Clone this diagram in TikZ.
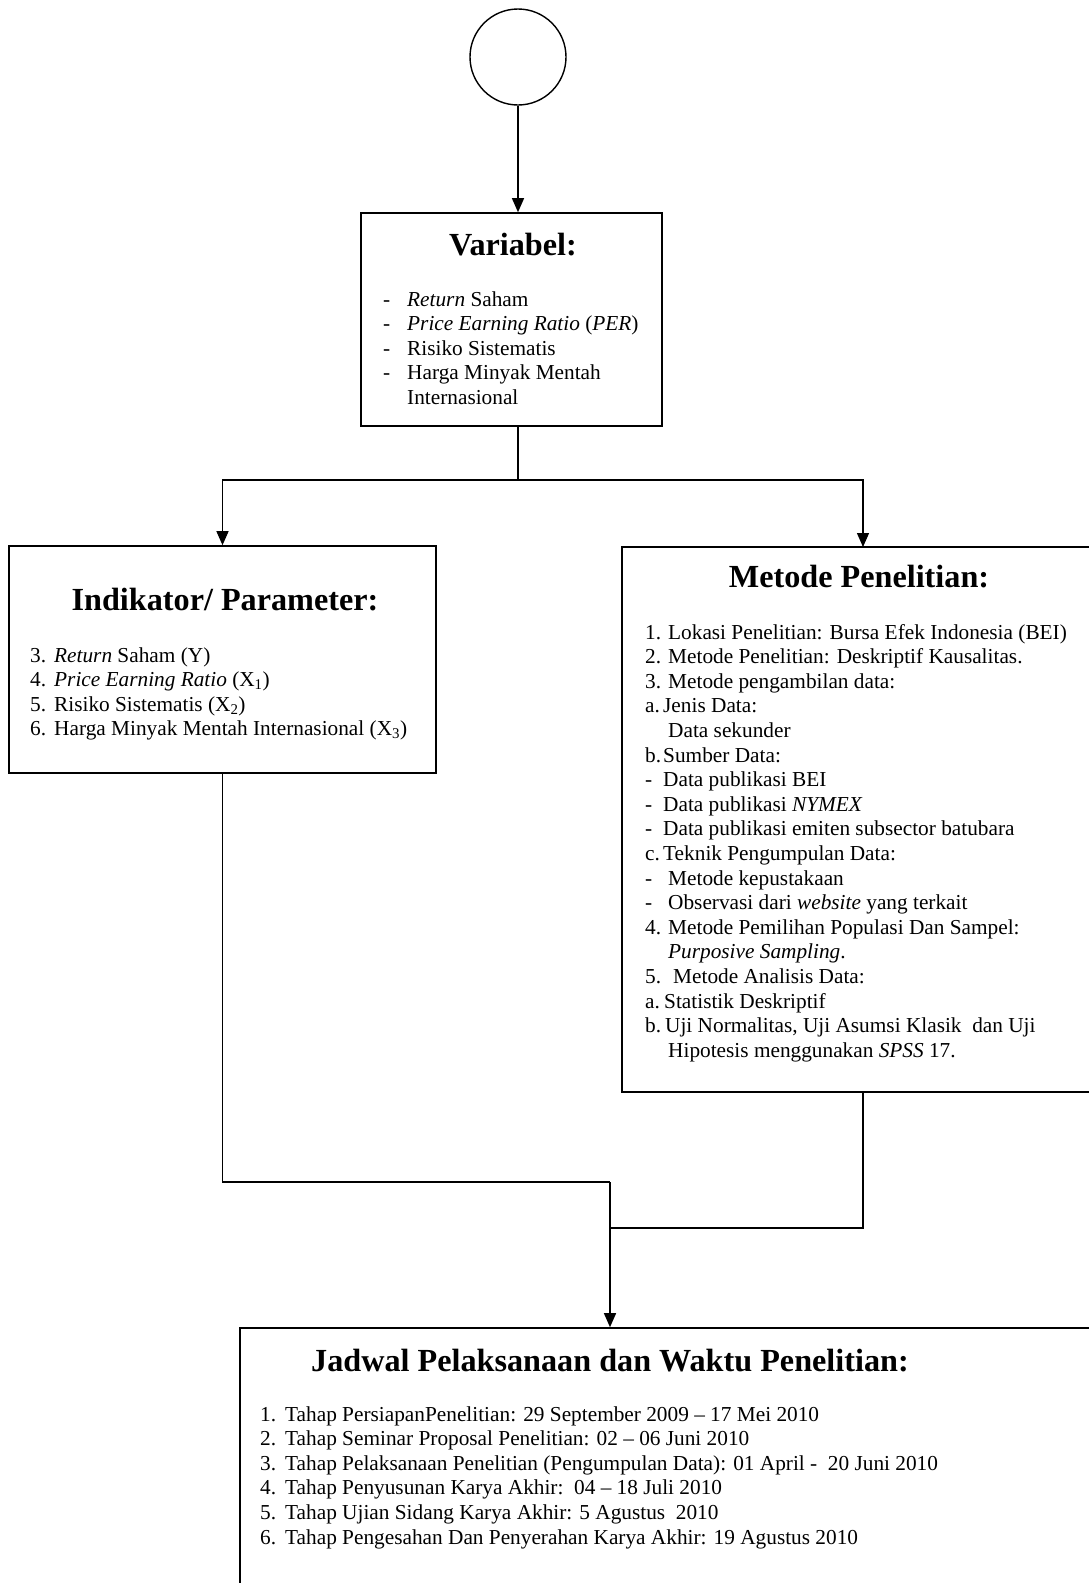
\documentclass[tikz,border=0pt]{standalone}
\usepackage{fontspec}
\setmainfont{Liberation Serif}
\usetikzlibrary{arrows.meta}
\newcommand\lbx[3]{\makebox[#1pt][l]{#2}#3}
\begin{document}
\begin{tikzpicture}[x=1pt,y=-1pt,
  box/.style={draw,line width=1.6pt,rectangle,inner sep=0pt},
  conn/.style={line width=1.3pt},
  arr/.style={conn,-{Triangle[length=14pt,width=12pt]}},
  ttl/.style={anchor=base,inner sep=0pt,font=\fontsize{32.2}{36}\selectfont\bfseries},
  lst/.style={anchor=base west,inner sep=0pt,font=\fontsize{21.3}{24.6}\selectfont}]
\useasboundingbox (0,0) rectangle (1089,1583);
% shapes
\node[draw,circle,line width=1.4pt,minimum size=96pt,inner sep=0pt] (start) at (518,57) {};
\node[box,minimum width=301pt,minimum height=213pt] (var) at (511.5,319.5) {};
\node[box,minimum width=427pt,minimum height=227pt] (ind) at (222.5,659.5) {};
\node[box,minimum width=473pt,minimum height=545pt] (met) at (858.5,819.5) {};
\node[box,minimum width=855pt,minimum height=272pt] (jad) at (667.5,1464) {};
% helper coordinates
\coordinate (j1) at (518,480);
\coordinate (metin) at (863,547);
\coordinate (metout) at (863,1092);
\coordinate (j2) at (610,1182);
\coordinate (j3) at (610,1228);
% connectors
\draw[arr] (start.south) -- (start.south |- var.north);
\draw[conn] (j1 |- var.south) -- (j1);
\draw[arr] (j1) -| (ind.north);
\draw[arr] (j1) -| (metin);
\draw[conn] (ind.south) |- (j2);
\draw[conn] (metout) |- (j3);
\draw[arr] (j2) -- (j2 |- jad.north);
% titles
\node[ttl] (vt) at (513,255) {Variabel:};
\node[ttl] (it) at (225,610) {Indikator/ Parameter:};
\node[ttl] (mt) at (859,587) {Metode Penelitian:};
\node[ttl] (jt) at (610,1371) {Jadwal Pelaksanaan dan Waktu Penelitian:};
% lists
\node[lst] (vl) at (383,306) {\parbox[t]{270pt}{\raggedright
\lbx{24}{-}{\textit{Return} Saham}\\
\lbx{24}{-}{\textit{Price Earning Ratio} (\textit{PER})}\\
\lbx{24}{-}{Risiko Sistematis}\\
\lbx{24}{-}{Harga Minyak Mentah}\\
\lbx{24}{}{Internasional}}};
\node[lst] (il) at (30,662) {\parbox[t]{400pt}{\raggedright
\lbx{24}{3.}{\textit{Return} Saham (Y)}\\
\lbx{24}{4.}{\textit{Price Earning Ratio} (X\textsubscript{1})}\\
\lbx{24}{5.}{Risiko Sistematis (X\textsubscript{2})}\\
\lbx{24}{6.}{Harga Minyak Mentah Internasional (X\textsubscript{3})}}};
\node[lst] (ml) at (645,639) {\parbox[t]{440pt}{\raggedright
\lbx{23}{1.}{Lokasi Penelitian: Bursa Efek Indonesia (BEI)}\\
\lbx{23}{2.}{Metode Penelitian: Deskriptif Kausalitas.}\\
\lbx{23}{3.}{Metode pengambilan data:}\\
\lbx{18}{a.}{Jenis Data:}\\
\lbx{23}{}{Data sekunder}\\
\lbx{18}{b.}{Sumber Data:}\\
\lbx{18}{-}{Data publikasi BEI}\\
\lbx{18}{-}{Data publikasi \textit{NYMEX}}\\
\lbx{18}{-}{Data publikasi emiten subsector batubara}\\
\lbx{18}{c.}{Teknik Pengumpulan Data:}\\
\lbx{23}{-}{Metode kepustakaan}\\
\lbx{23}{-}{Observasi dari \textit{website} yang terkait}\\
\lbx{23}{4.}{Metode Pemilihan Populasi Dan Sampel:}\\
\lbx{23}{}{\textit{Purposive Sampling}.}\\
\lbx{28}{5.}{Metode Analisis Data:}\\
\lbx{19}{a.}{Statistik Deskriptif}\\
\lbx{20}{b.}{Uji Normalitas, Uji Asumsi Klasik\ \ dan Uji}\\
\lbx{23}{}{Hipotesis menggunakan \textit{SPSS} 17.}}};
\node[lst] (jl) at (260,1421) {\parbox[t]{820pt}{\raggedright
\lbx{25}{1.}{Tahap PersiapanPenelitian: 29 September 2009 -- 17 Mei 2010}\\
\lbx{25}{2.}{Tahap Seminar Proposal Penelitian: 02 -- 06 Juni 2010}\\
\lbx{25}{3.}{Tahap Pelaksanaan Penelitian (Pengumpulan Data): 01 April -\ \ 20 Juni 2010}\\
\lbx{25}{4.}{Tahap Penyusunan Karya Akhir:\ \ 04 -- 18 Juli 2010}\\
\lbx{25}{5.}{Tahap Ujian Sidang Karya Akhir: 5 Agustus\ \ 2010}\\
\lbx{25}{6.}{Tahap Pengesahan Dan Penyerahan Karya Akhir: 19 Agustus 2010}}};
\end{tikzpicture}
\end{document}
